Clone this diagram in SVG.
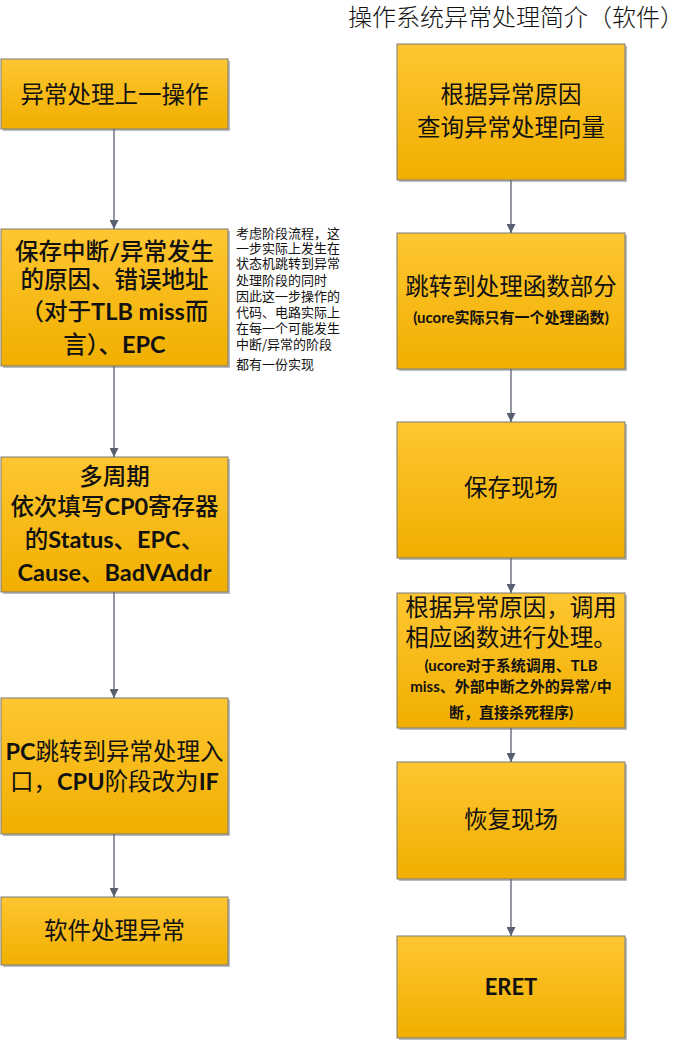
<svg xmlns="http://www.w3.org/2000/svg" width="686" height="1041" viewBox="0 0 686 1041">
<defs>
<linearGradient id="g" x1="0" y1="0" x2="0" y2="1">
<stop offset="0" stop-color="#FEC631"/>
<stop offset="1" stop-color="#F0AF00"/>
</linearGradient>
<marker id="ah" viewBox="0 0 10 10" refX="10" refY="5" markerWidth="9" markerHeight="9" markerUnits="userSpaceOnUse" orient="auto">
<path d="M0,0 L10,5 L0,10 z" fill="#58606f"/>
</marker>
</defs>
<style>
.sh{fill:#a0a0a0;opacity:0.7}
.bx{fill:url(#g);stroke:#7a7a7a;stroke-width:1}
.t{font-family:"Noto Sans CJK SC","Noto Sans",sans-serif;font-size:23.5px;fill:#111;text-anchor:middle}
.b{font-weight:500}
.lat{font-family:Lato,"Liberation Sans","Noto Sans CJK SC",sans-serif;font-weight:bold}
.s{font-family:"Noto Sans CJK SC",sans-serif;font-size:15px;font-weight:bold;fill:#111;text-anchor:middle}
.n{font-family:"Noto Sans CJK SC",sans-serif;font-size:13px;fill:#111}
.c{stroke:#58606f;stroke-width:1.3;fill:none}
</style>
<text x="516" y="26" style="font-family:'Noto Sans CJK SC',sans-serif;font-size:24px;font-weight:300;fill:#111;text-anchor:middle">操作系统异常处理简介（软件）</text>

<g id="L1"><rect class="sh" x="3" y="61" width="227" height="70"/><rect class="bx" x="1" y="59" width="227" height="70"/>
<text class="t" x="114.5" y="103">异常处理上一操作</text></g>

<g id="L2"><rect class="sh" x="3" y="231" width="227" height="137"/><rect class="bx" x="1" y="229" width="227" height="137"/>
<text class="t b" x="114.5" y="260">保存中断<tspan class="lat">/</tspan>异常发生</text>
<text class="t b" x="114.5" y="288">的原因、错误地址</text>
<text class="t b" x="114.5" y="320">（对于<tspan class="lat">TLB miss</tspan>而</text>
<text class="t b" x="114.5" y="353">言）、<tspan class="lat">EPC</tspan></text></g>

<g id="note">
<text class="n" x="236" y="238">考虑阶段流程，这</text>
<text class="n" x="236" y="253">一步实际上发生在</text>
<text class="n" x="236" y="268">状态机跳转到异常</text>
<text class="n" x="236" y="285">处理阶段的同时</text>
<text class="n" x="236" y="301">因此这一步操作的</text>
<text class="n" x="236" y="317">代码、电路实际上</text>
<text class="n" x="236" y="333">在每一个可能发生</text>
<text class="n" x="236" y="349">中断/异常的阶段</text>
<text class="n" x="236" y="369">都有一份实现</text>
</g>

<g id="L3"><rect class="sh" x="3" y="459" width="227" height="135"/><rect class="bx" x="1" y="457" width="227" height="135"/>
<text class="t b" x="114.5" y="485">多周期</text>
<text class="t b" x="114.5" y="515">依次填写<tspan class="lat">CP0</tspan>寄存器</text>
<text class="t b" x="114.5" y="548">的<tspan class="lat">Status</tspan>、<tspan class="lat">EPC</tspan>、</text>
<text class="t b" x="114.5" y="581"><tspan class="lat">Cause</tspan>、<tspan class="lat">BadVAddr</tspan></text></g>

<g id="L4"><rect class="sh" x="3" y="700" width="227" height="136"/><rect class="bx" x="1" y="698" width="227" height="136"/>
<text class="t" x="114.5" y="760"><tspan class="lat">PC</tspan>跳转到异常处理入</text>
<text class="t" x="114.5" y="790">口，<tspan class="lat">CPU</tspan>阶段改为<tspan class="lat">IF</tspan></text></g>

<g id="L5"><rect class="sh" x="3" y="899" width="227" height="68"/><rect class="bx" x="1" y="897" width="227" height="68"/>
<text class="t" x="114.5" y="939">软件处理异常</text></g>

<g id="R1"><rect class="sh" x="399" y="46" width="228" height="136"/><rect class="bx" x="397" y="44" width="228" height="136"/>
<text class="t" x="511" y="103">根据异常原因</text>
<text class="t" x="511" y="136">查询异常处理向量</text></g>

<g id="R2"><rect class="sh" x="399" y="235" width="228" height="136"/><rect class="bx" x="397" y="233" width="228" height="136"/>
<text class="t" x="511" y="295">跳转到处理函数部分</text>
<text class="s" x="511" y="323"><tspan class="lat">(ucore</tspan>实际只有一个处理函数<tspan class="lat">)</tspan></text></g>

<g id="R3"><rect class="sh" x="399" y="424" width="228" height="136"/><rect class="bx" x="397" y="422" width="228" height="136"/>
<text class="t" x="511" y="496">保存现场</text></g>

<g id="R4"><rect class="sh" x="399" y="595" width="228" height="135"/><rect class="bx" x="397" y="593" width="228" height="135"/>
<text class="t" x="511" y="616">根据异常原因，调用</text>
<text class="t" x="511" y="646">相应函数进行处理。</text>
<text class="s" x="511" y="671"><tspan class="lat">(ucore</tspan>对于系统调用、<tspan class="lat">TLB</tspan></text>
<text class="s" x="511" y="692"><tspan class="lat">miss</tspan>、外部中断之外的异常<tspan class="lat">/</tspan>中</text>
<text class="s" x="511" y="718">断，直接杀死程序<tspan class="lat">)</tspan></text></g>

<g id="R5"><rect class="sh" x="399" y="764" width="228" height="117"/><rect class="bx" x="397" y="762" width="228" height="117"/>
<text class="t" x="511" y="828">恢复现场</text></g>

<g id="R6"><rect class="sh" x="399" y="938" width="228" height="102"/><rect class="bx" x="397" y="936" width="228" height="102"/>
<text class="t lat" x="511" y="995" style="font-size:22px">ERET</text></g>

<g id="connectors">
<line class="c" x1="114" y1="129" x2="114" y2="229" marker-end="url(#ah)"/>
<line class="c" x1="114" y1="366" x2="114" y2="457" marker-end="url(#ah)"/>
<line class="c" x1="114" y1="592" x2="114" y2="698" marker-end="url(#ah)"/>
<line class="c" x1="114" y1="834" x2="114" y2="897" marker-end="url(#ah)"/>
<line class="c" x1="511" y1="180" x2="511" y2="233" marker-end="url(#ah)"/>
<line class="c" x1="511" y1="369" x2="511" y2="422" marker-end="url(#ah)"/>
<line class="c" x1="511" y1="558" x2="511" y2="593" marker-end="url(#ah)"/>
<line class="c" x1="511" y1="728" x2="511" y2="762" marker-end="url(#ah)"/>
<line class="c" x1="511" y1="879" x2="511" y2="936" marker-end="url(#ah)"/>
</g>
</svg>
